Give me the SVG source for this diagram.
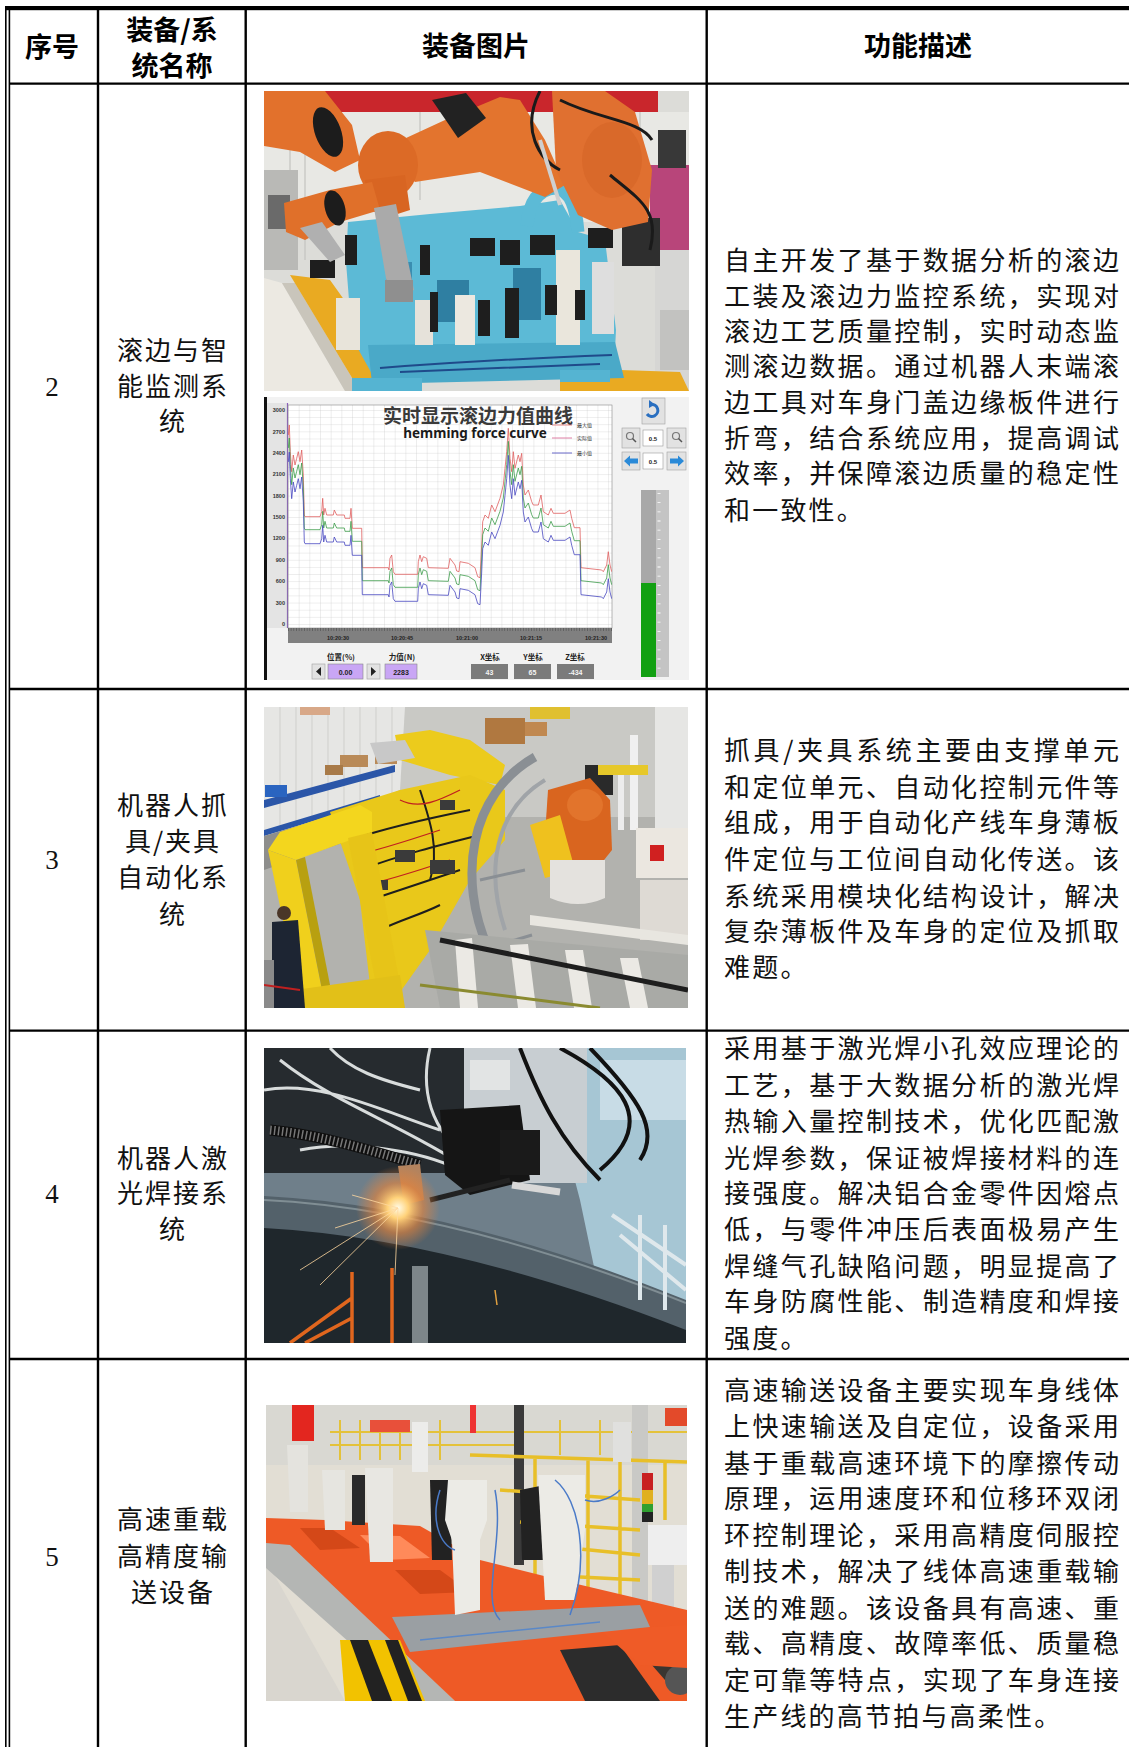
<svg xmlns="http://www.w3.org/2000/svg" xmlns:xlink="http://www.w3.org/1999/xlink" width="1129" height="1747" viewBox="0 0 1129 1747">
<defs>
<style>
.ln{stroke:#000;stroke-width:2.4;fill:none}
.t{font-family:"Noto Sans CJK SC","Noto Sans",sans-serif;font-size:26px;fill:#111}
.c{text-anchor:middle;letter-spacing:2px}
.h{font-family:"Noto Sans CJK SC","Noto Sans",sans-serif;font-size:27px;font-weight:700;text-anchor:middle;fill:#000}
.n{font-family:"Liberation Serif",serif;font-size:27px;text-anchor:middle;fill:#111}
.ax{font-family:"Liberation Sans",sans-serif;font-size:5.5px;font-weight:700;fill:#333}
.tm{font-family:"Liberation Sans",sans-serif;font-size:5.5px;font-weight:700;fill:#222;text-anchor:middle}
.lb{font-family:"Noto Sans CJK SC","Liberation Sans",sans-serif;font-size:7.5px;font-weight:700;fill:#222;text-anchor:middle}
.bv{font-family:"Liberation Sans",sans-serif;font-size:7px;font-weight:700;text-anchor:middle}
.lg{font-family:"Noto Sans CJK SC",sans-serif;font-size:5px;fill:#333}
.btn{fill:#e2e2e2;stroke:#a0a0a0;stroke-width:0.6}
.wire{fill:none;stroke:#1e1e1e;stroke-width:2}
</style>
<clipPath id="cp1"><rect x="264" y="91" width="425" height="300"/></clipPath>
<clipPath id="cp2"><rect x="264" y="397" width="425" height="283"/></clipPath>
<clipPath id="cpPlot"><rect x="288" y="405" width="324" height="223"/></clipPath>
<clipPath id="cp3"><rect x="264" y="707" width="424" height="301"/></clipPath>
<clipPath id="cp4"><rect x="264" y="1048" width="422" height="295"/></clipPath>
<clipPath id="cp5"><rect x="266" y="1405" width="421" height="296"/></clipPath>
<pattern id="grid" patternUnits="userSpaceOnUse" x="288" y="410" width="10.67" height="7.133">
<path d="M0 0H10.67M0 0V7.133" stroke="#c6c6c6" stroke-width="0.6" fill="none"/>
</pattern>
<pattern id="ticks" patternUnits="userSpaceOnUse" x="288" y="628" width="2.67" height="4">
<path d="M0.3 0V3" stroke="#333" stroke-width="0.5"/>
</pattern>
<radialGradient id="spark">
<stop offset="0" stop-color="#fffbe8"/>
<stop offset="0.25" stop-color="#ffd27a"/>
<stop offset="0.6" stop-color="#e8843a" stop-opacity="0.6"/>
<stop offset="1" stop-color="#e8843a" stop-opacity="0"/>
</radialGradient>
<polyline id="curve" fill="none" points="288.3,435 289.3,425 290.3,451.7 291.7,471.7 293.3,455 295,465 296.7,458.3 298.3,451.7 300,461.7 301.7,450 303.3,475 304.3,515 305,516.7 320,516.7 321.7,511.7 322.7,498.3 323.7,515 325,508.3 326.7,515 333.3,515 334.3,510 336.7,515 344.3,515 345,518.3 350,518.3 351,508.3 352.3,528.3 361.7,528.3 362.3,567.7 388.3,567.7 389,570 390,558.3 391.7,555 393.3,571.7 395,574.3 417.7,574.3 418.3,561.7 420,555 421.7,561.7 423.3,556.7 426.7,558.3 428.3,567.7 448.3,568.3 450,558.3 455,565 456.7,571 459,571.7 460,561.7 468.3,563.3 475,567.7 477.7,576.7 480,577.7 481.7,545 482.7,521.7 485,515 488.3,518.3 491.7,505 495,511.7 500,498.3 503.3,485 505,468.3 506.7,451.7 508.3,428.3 510,458.3 511.7,471.7 513.3,451.7 515,468.3 518.3,455 520,461.7 521.7,453.3 523.3,485 525,495 528.3,490 531.7,501.7 533.3,505 538.3,505 541,495 543.3,511.7 548.3,515 551,508.3 553.3,513.3 565,513.3 570,510 571.7,518.3 574.3,527.7 580,527.7 581,567.7 601.7,570 603.3,571.7 606.7,565 608.3,551.7 610,565 611.7,571.7"/>
</defs>

<rect x="0" y="0" width="1129" height="1747" fill="#fff"/>

<!-- table grid -->
<g id="table-grid">
<rect x="5" y="6" width="1124" height="4.2" fill="#000"/>
<rect x="5" y="6" width="1.6" height="1741" fill="#000"/>
<rect x="8.6" y="6" width="1.6" height="1741" fill="#000"/>
<line class="ln" x1="10" y1="83.6" x2="1129" y2="83.6"/>
<line class="ln" x1="10" y1="689" x2="1129" y2="689"/>
<line class="ln" x1="10" y1="1030.6" x2="1129" y2="1030.6"/>
<line class="ln" x1="10" y1="1359" x2="1129" y2="1359"/>
<line class="ln" x1="98" y1="10" x2="98" y2="1747"/>
<line class="ln" x1="245.7" y1="10" x2="245.7" y2="1747"/>
<line class="ln" x1="706.7" y1="10" x2="706.7" y2="1747"/>
</g>

<!-- header -->
<g id="header">
<text class="h" x="52" y="57">序号</text>
<text class="h" x="172" y="40">装备/系</text>
<text class="h" x="172" y="76">统名称</text>
<text class="h" x="476" y="56">装备图片</text>
<text class="h" x="918" y="56">功能描述</text>
</g>

<!-- row 2 -->
<g id="row-2">
<text class="n" x="52" y="396">2</text>
<text class="t c" x="173" y="360">滚边与智</text>
<text class="t c" x="173" y="396">能监测系</text>
<text class="t c" x="173" y="431">统</text>
<g class="desc">
<text class="t" x="724" y="270" textLength="395" lengthAdjust="spacing">自主开发了基于数据分析的滚边</text>
<text class="t" x="724" y="306" textLength="395" lengthAdjust="spacing">工装及滚边力监控系统，实现对</text>
<text class="t" x="724" y="341" textLength="395" lengthAdjust="spacing">滚边工艺质量控制，实时动态监</text>
<text class="t" x="724" y="376" textLength="395" lengthAdjust="spacing">测滚边数据。通过机器人末端滚</text>
<text class="t" x="724" y="412" textLength="395" lengthAdjust="spacing">边工具对车身门盖边缘板件进行</text>
<text class="t" x="724" y="448" textLength="395" lengthAdjust="spacing">折弯，结合系统应用，提高调试</text>
<text class="t" x="724" y="483" textLength="395" lengthAdjust="spacing">效率，并保障滚边质量的稳定性</text>
<text class="t" x="724" y="520" letter-spacing="2.2">和一致性。</text>
</g>
</g>

<!-- photo: hemming cell -->
<g id="photo-hemming" clip-path="url(#cp1)">
<rect x="264" y="91" width="425" height="300" fill="#dcdcd8"/>
<rect x="264" y="112" width="425" height="110" fill="#e8e8e4"/>
<path d="M290 112V260M305 112V260M420 112V200M640 112V200M600 112V180" stroke="#c4c4c0" stroke-width="1.2"/>
<rect x="312" y="91" width="346" height="21" fill="#c9262c"/>
<rect x="264" y="170" width="34" height="100" fill="#b9b9b6"/>
<rect x="268" y="195" width="22" height="34" fill="#6a6a6a"/>
<rect x="650" y="165" width="39" height="95" fill="#b8457a"/>
<rect x="658" y="130" width="28" height="38" fill="#383838"/>
<rect x="655" y="250" width="34" height="141" fill="#d6d6d4"/>
<rect x="660" y="310" width="29" height="60" fill="#c2c2c0"/>
<rect x="622" y="218" width="38" height="48" fill="#2e2e2e"/>
<polygon points="264,278 282,283 345,391 264,391" fill="#ece9e2"/>
<polygon points="282,283 295,283 360,391 345,391" fill="#c9c5bb"/>
<polygon points="290,275 330,280 380,350 420,391 360,391" fill="#e9aa22"/>
<polygon points="560,368 680,372 689,391 560,391" fill="#e9aa22"/>
<polygon points="348,222 430,214 520,206 560,200 578,232 605,240 616,330 614,370 372,374 352,338 346,262" fill="#5cbad6"/>
<polygon points="368,345 615,342 624,378 372,384" fill="#4aa9c8"/>
<rect x="352" y="378" width="70" height="13" fill="#55b4d2"/>
<rect x="560" y="370" width="50" height="12" fill="#55b4d2"/>
<rect x="437" y="280" width="32" height="42" fill="#2f7fa2"/>
<rect x="513" y="268" width="28" height="52" fill="#2f7fa2"/>
<rect x="386" y="262" width="26" height="40" fill="#3a8db0"/>
<path d="M527 226Q530 190 555 188Q575 190 578 232" stroke="#5cbad6" stroke-width="13" fill="none"/>
<rect x="556" y="250" width="24" height="95" fill="#eae6dc"/>
<rect x="592" y="262" width="22" height="72" fill="#dedede"/>
<rect x="336" y="298" width="24" height="52" fill="#e8e4da"/>
<rect x="455" y="295" width="20" height="50" fill="#ece8e0"/>
<rect x="415" y="300" width="18" height="45" fill="#e6e2da"/>
<g fill="#1e1e1e">
<rect x="345" y="235" width="12" height="30"/><rect x="420" y="245" width="10" height="30"/>
<rect x="470" y="238" width="25" height="18"/><rect x="500" y="240" width="20" height="25"/>
<rect x="530" y="235" width="25" height="20"/><rect x="588" y="228" width="25" height="20"/>
<rect x="430" y="292" width="8" height="40"/><rect x="505" y="288" width="14" height="50"/>
<rect x="545" y="285" width="12" height="30"/><rect x="575" y="290" width="10" height="30"/>
<rect x="310" y="260" width="25" height="18"/><rect x="478" y="300" width="12" height="36"/>
</g>
<path d="M380 368Q480 360 612 355M400 372Q500 368 600 364" stroke="#1f4a8a" stroke-width="2" fill="none"/>
<polygon points="264,91 325,91 352,125 360,160 335,172 300,152 264,146" fill="#e2712c"/>
<ellipse cx="328" cy="132" rx="13" ry="26" transform="rotate(-20 328 132)" fill="#1c1c1c"/>
<polygon points="380,150 445,120 500,97 520,100 545,140 565,185 545,197 480,172 415,182" fill="#e3742e"/>
<ellipse cx="388" cy="165" rx="30" ry="34" fill="#dc6a26"/>
<polygon points="365,180 405,175 410,210 385,218 368,208" fill="#d86522"/>
<polygon points="284,203 330,190 372,182 380,210 340,222 305,240 286,232" fill="#e0702a"/>
<ellipse cx="335" cy="208" rx="10" ry="18" transform="rotate(-15 335 208)" fill="#1c1c1c"/>
<polygon points="300,228 322,222 345,255 330,262" fill="#b0b0b0"/>
<polygon points="374,208 396,204 414,290 396,298 388,290" fill="#aaa"/>
<rect x="385" y="280" width="28" height="22" fill="#8f8f8f"/>
<polygon points="552,91 605,91 635,112 652,170 648,222 612,230 578,215 556,170" fill="#e07030"/>
<ellipse cx="612" cy="160" rx="30" ry="38" fill="#d9692a"/>
<polygon points="432,100 466,93 486,118 458,138" fill="#222"/>
<path d="M540 91C520 130 540 160 560 170M560 100C600 120 640 120 652 140M610 175C640 200 660 210 650 250" stroke="#1a1a1a" stroke-width="3" fill="none"/>
<line x1="540" y1="140" x2="560" y2="205" stroke="#cfcfcf" stroke-width="4"/>
</g>

<!-- chart: hemming force curve -->
<g id="chart-hemming" clip-path="url(#cp2)">
<rect x="264" y="397" width="425" height="283" fill="#f2f2f2"/>
<rect x="264" y="397" width="3" height="283" fill="#111"/>
<rect x="267" y="403" width="21" height="225" fill="#e4e4e4"/>
<line x1="287.5" y1="403" x2="287.5" y2="628" stroke="#8a5cc0" stroke-width="1.2"/>
<rect x="288" y="405" width="324" height="223" fill="#fff"/>
<rect x="288" y="405" width="324" height="223" fill="url(#grid)" stroke="#888" stroke-width="0.6"/>
<g clip-path="url(#cpPlot)" stroke-width="0.8">
<use xlink:href="#curve" stroke="#e06060"/>
<use xlink:href="#curve" transform="translate(0,13)" stroke="#3c9c4a"/>
<use xlink:href="#curve" transform="translate(0,27)" stroke="#4848c0"/>
</g>
<text class="ax" x="285" y="412" text-anchor="end">3000</text>
<text class="ax" x="285" y="433.5" text-anchor="end">2700</text>
<text class="ax" x="285" y="455" text-anchor="end">2400</text>
<text class="ax" x="285" y="476.3" text-anchor="end">2100</text>
<text class="ax" x="285" y="497.7" text-anchor="end">1800</text>
<text class="ax" x="285" y="519" text-anchor="end">1500</text>
<text class="ax" x="285" y="540.4" text-anchor="end">1200</text>
<text class="ax" x="285" y="561.8" text-anchor="end">900</text>
<text class="ax" x="285" y="583.2" text-anchor="end">600</text>
<text class="ax" x="285" y="604.6" text-anchor="end">300</text>
<text class="ax" x="285" y="626" text-anchor="end">0</text>
<rect x="288" y="628" width="324" height="15" fill="#808080"/>
<rect x="288" y="628" width="324" height="3" fill="url(#ticks)"/>
<text class="tm" x="338" y="639.5">10:20:30</text>
<text class="tm" x="402" y="639.5">10:20:45</text>
<text class="tm" x="467" y="639.5">10:21:00</text>
<text class="tm" x="531" y="639.5">10:21:15</text>
<text class="tm" x="596" y="639.5">10:21:30</text>
<text x="478" y="422.5" text-anchor="middle" style="font-family:'Noto Sans CJK SC',sans-serif;font-size:19px;font-weight:700;fill:#3a3a3a">实时显示滚边力值曲线</text>
<text x="475" y="438.3" text-anchor="middle" style="font-family:'Noto Sans','Liberation Sans',sans-serif;font-size:13.5px;font-weight:700;fill:#1a1a1a">hemming force curve</text>
<line x1="552" y1="425" x2="572" y2="425" stroke="#e07070" stroke-width="0.8"/>
<line x1="552" y1="438" x2="572" y2="438" stroke="#d86090" stroke-width="0.8"/>
<line x1="552" y1="453" x2="572" y2="453" stroke="#4848c0" stroke-width="0.8"/>
<text class="lg" x="577" y="427">最大值</text>
<text class="lg" x="577" y="440">实际值</text>
<text class="lg" x="577" y="455">最小值</text>
<rect class="btn" x="642" y="398" width="23" height="26"/>
<path d="M647 414A6 6 0 1 0 651 404.5" stroke="#2a6fc0" stroke-width="3" fill="none"/>
<polygon points="649,400 655,404.5 649,408" fill="#2a6fc0"/>
<rect class="btn" x="622" y="428" width="18" height="20"/>
<circle cx="630" cy="436" r="3.5" fill="none" stroke="#777" stroke-width="1.2"/>
<line x1="632.5" y1="438.5" x2="636" y2="442" stroke="#555" stroke-width="1.5"/>
<rect x="643" y="430" width="20" height="16" fill="#fff" stroke="#999" stroke-width="0.6"/>
<text class="bv" x="653" y="440.5" style="font-size:6px;fill:#222">0.5</text>
<rect class="btn" x="667" y="428" width="19" height="20"/>
<circle cx="676" cy="436" r="3.5" fill="none" stroke="#777" stroke-width="1.2"/>
<line x1="678.5" y1="438.5" x2="682" y2="442" stroke="#555" stroke-width="1.5"/>
<rect class="btn" x="622" y="452" width="18" height="18"/>
<polygon points="624,461 630,455.5 630,458.5 638,458.5 638,463.5 630,463.5 630,466.5" fill="#2a8ad8"/>
<rect x="643" y="453" width="20" height="16" fill="#fff" stroke="#999" stroke-width="0.6"/>
<text class="bv" x="653" y="463.5" style="font-size:6px;fill:#222">0.5</text>
<rect class="btn" x="667" y="452" width="19" height="18"/>
<polygon points="684,461 678,455.5 678,458.5 670,458.5 670,463.5 678,463.5 678,466.5" fill="#2a8ad8"/>
<rect x="641" y="490" width="28" height="187" fill="#a8a8a8"/>
<rect x="656" y="490" width="13" height="187" fill="#c4c4c4"/>
<rect x="641" y="583" width="15" height="94" fill="#12a012"/>
<line x1="659" y1="493" x2="659" y2="676" stroke="#fff" stroke-width="3" stroke-dasharray="0.8 8.4"/>
<text class="lb" x="341" y="660">位置(%)</text>
<text class="lb" x="402" y="660">力值(N)</text>
<text class="lb" x="490" y="660">X坐标</text>
<text class="lb" x="533" y="660">Y坐标</text>
<text class="lb" x="575" y="660">Z坐标</text>
<rect class="btn" x="312" y="664" width="13" height="15"/>
<polygon points="321,667 321,676 316,671.5" fill="#222"/>
<rect x="328" y="664" width="35" height="15" fill="#c9a6f5" stroke="#888" stroke-width="0.6"/>
<text class="bv" x="345.5" y="674.5" fill="#222">0.00</text>
<rect class="btn" x="367" y="664" width="13" height="15"/>
<polygon points="371,667 371,676 376,671.5" fill="#222"/>
<rect x="385" y="664" width="32" height="15" fill="#c9a6f5" stroke="#888" stroke-width="0.6"/>
<text class="bv" x="401" y="674.5" fill="#222">2283</text>
<rect x="471" y="664" width="37" height="15" fill="#7b7b7b"/>
<text class="bv" x="489.5" y="674.5" fill="#f4f4f4">43</text>
<rect x="514" y="664" width="37" height="15" fill="#7b7b7b"/>
<text class="bv" x="532.5" y="674.5" fill="#f4f4f4">65</text>
<rect x="557" y="664" width="37" height="15" fill="#7b7b7b"/>
<text class="bv" x="575.5" y="674.5" fill="#f4f4f4">-434</text>
</g>

<!-- row 3 -->
<g id="row-3">
<text class="n" x="52" y="869">3</text>
<text class="t c" x="173" y="815">机器人抓</text>
<text class="t c" x="173" y="851">具/夹具</text>
<text class="t c" x="173" y="887">自动化系</text>
<text class="t c" x="173" y="924">统</text>
<g class="desc">
<text class="t" x="724" y="760" textLength="395" lengthAdjust="spacing">抓具/夹具系统主要由支撑单元</text>
<text class="t" x="724" y="797" textLength="395" lengthAdjust="spacing">和定位单元、自动化控制元件等</text>
<text class="t" x="724" y="832" textLength="395" lengthAdjust="spacing">组成，用于自动化产线车身薄板</text>
<text class="t" x="724" y="869" textLength="395" lengthAdjust="spacing">件定位与工位间自动化传送。该</text>
<text class="t" x="724" y="906" textLength="395" lengthAdjust="spacing">系统采用模块化结构设计，解决</text>
<text class="t" x="724" y="941" textLength="395" lengthAdjust="spacing">复杂薄板件及车身的定位及抓取</text>
<text class="t" x="724" y="977" letter-spacing="2.2">难题。</text>
</g>
</g>

<!-- photo: gripper system -->
<g id="photo-gripper" clip-path="url(#cp3)">
<rect x="264" y="707" width="424" height="301" fill="#b2b2ae"/>
<rect x="400" y="707" width="288" height="110" fill="#c9c9c5"/>
<polygon points="264,707 405,707 400,790 264,850" fill="#e6e6e4"/>
<path d="M280 707V845M296 707V838M312 707V831M328 707V824M344 707V817M360 707V810M376 707V803M392 707V796" stroke="#cfcfcc" stroke-width="1"/>
<rect x="300" y="707" width="30" height="8" fill="#d8a888"/>
<polygon points="264,800 395,765 395,772 264,808" fill="#2b56a8"/>
<polygon points="264,830 380,795 380,801 264,836" fill="#2b56a8"/>
<polygon points="264,836 380,801 380,830 264,870" fill="#8e8e8c"/>
<rect x="265" y="785" width="22" height="12" fill="#2a64c0"/>
<rect x="340" y="755" width="28" height="12" fill="#b98a58"/>
<rect x="375" y="752" width="22" height="12" fill="#b98a58"/>
<rect x="325" y="765" width="18" height="10" fill="#a87a48"/>
<rect x="485" y="718" width="40" height="26" fill="#b07840"/>
<rect x="525" y="722" width="22" height="14" fill="#c08850"/>
<rect x="530" y="707" width="40" height="12" fill="#e0c030"/>
<polygon points="395,735 430,730 470,740 505,765 500,785 450,775 400,760" fill="#eccb1c"/>
<polygon points="370,743 405,740 415,758 378,764" fill="#c8c8c8"/>
<polygon points="330,812 400,790 470,775 505,790 505,840 470,880 430,950 398,995 370,985 360,900" fill="#e9c81a"/>
<path d="M350 840C380 830 420 820 470 810M360 870C400 855 440 845 480 835M370 900C400 890 430 880 460 870M380 930C400 920 420 915 440 905M420 790C430 820 440 850 430 880" class="wire"/>
<path d="M355 855C380 850 410 840 440 830M365 885C390 880 420 870 450 860M400 800C420 810 440 800 460 790" fill="none" stroke="#c02020" stroke-width="1.3"/>
<g fill="#3a3a3a"><rect x="395" y="850" width="20" height="12"/><rect x="430" y="860" width="25" height="14"/><rect x="370" y="880" width="18" height="10"/><rect x="440" y="800" width="15" height="10"/></g>
<polygon points="268,850 280,832 360,805 372,812 372,832 296,860" fill="#f3d61e"/>
<polygon points="268,850 296,860 322,990 300,1000" fill="#f0d01c"/>
<polygon points="296,860 305,857 330,985 322,990" fill="#b8a010"/>
<polygon points="348,838 372,832 400,985 378,995" fill="#e7c418"/>
<polygon points="295,990 400,975 405,1008 300,1008" fill="#e2c018"/>
<path d="M488 948C458 880 468 795 535 757" stroke="#8a8f94" stroke-width="9" fill="none"/>
<path d="M505 930C485 870 495 810 545 780" stroke="#a0a4a8" stroke-width="4" fill="none"/>
<path d="M488 948L532 935M480 880L525 870" stroke="#8a8f94" stroke-width="3" fill="none"/>
<rect x="585" y="765" width="28" height="30" fill="#2a2a2a"/>
<polygon points="548,790 590,778 610,800 612,850 600,865 560,862 545,835" fill="#d9651f"/>
<ellipse cx="585" cy="805" rx="18" ry="16" fill="#e2742c"/>
<polygon points="530,825 560,815 575,870 545,878" fill="#efc11e"/>
<path d="M550 860H605V898Q578 910 550 898Z" fill="#e4e2de"/>
<rect x="655" y="707" width="33" height="130" fill="#e6e6e4"/>
<rect x="630" y="735" width="8" height="95" fill="#f0f0f0"/>
<rect x="618" y="770" width="6" height="60" fill="#ececec"/>
<rect x="598" y="765" width="50" height="10" fill="#e6c82a"/>
<rect x="636" y="828" width="52" height="50" fill="#ebe7e0"/>
<rect x="640" y="880" width="48" height="60" fill="#dedad4"/>
<rect x="650" y="845" width="14" height="16" fill="#d02020"/>
<polygon points="425,930 688,955 688,1008 440,1008" fill="#a9aaa6"/>
<polygon points="530,915 688,935 688,945 530,925" fill="#e8e6e0"/>
<g fill="#ebe9e4"><polygon points="455,940 472,938 478,1008 460,1008"/><polygon points="510,945 528,944 536,1008 518,1008"/><polygon points="565,950 583,950 592,1008 574,1008"/><polygon points="620,958 638,958 648,1008 630,1008"/></g>
<path d="M440 940L688 990" stroke="#1e1e1e" stroke-width="5"/>
<path d="M420 985L600 1008" stroke="#8a8a30" stroke-width="3"/>
<circle cx="284" cy="913" r="7" fill="#4a3628"/>
<polygon points="272,922 298,920 305,1008 272,1008" fill="#1d2533"/>
<rect x="264" y="960" width="10" height="48" fill="#8a8a8a"/>
<path d="M264 985L300 990" stroke="#c02020" stroke-width="2"/>
</g>

<!-- row 4 -->
<g id="row-4">
<text class="n" x="52" y="1203">4</text>
<text class="t c" x="173" y="1168">机器人激</text>
<text class="t c" x="173" y="1203">光焊接系</text>
<text class="t c" x="173" y="1239">统</text>
<g class="desc">
<text class="t" x="724" y="1058" textLength="395" lengthAdjust="spacing">采用基于激光焊小孔效应理论的</text>
<text class="t" x="724" y="1095" textLength="395" lengthAdjust="spacing">工艺，基于大数据分析的激光焊</text>
<text class="t" x="724" y="1131" textLength="395" lengthAdjust="spacing">热输入量控制技术，优化匹配激</text>
<text class="t" x="724" y="1168" textLength="395" lengthAdjust="spacing">光焊参数，保证被焊接材料的连</text>
<text class="t" x="724" y="1203" textLength="395" lengthAdjust="spacing">接强度。解决铝合金零件因熔点</text>
<text class="t" x="724" y="1239" textLength="395" lengthAdjust="spacing">低，与零件冲压后表面极易产生</text>
<text class="t" x="724" y="1276" textLength="395" lengthAdjust="spacing">焊缝气孔缺陷问题，明显提高了</text>
<text class="t" x="724" y="1311" textLength="395" lengthAdjust="spacing">车身防腐性能、制造精度和焊接</text>
<text class="t" x="724" y="1348" letter-spacing="2.2">强度。</text>
</g>
</g>

<!-- photo: laser welding -->
<g id="photo-laser" clip-path="url(#cp4)">
<rect x="264" y="1048" width="422" height="295" fill="#6f7f8a"/>
<polygon points="540,1048 686,1048 686,1343 610,1343 580,1200" fill="#a6c6d4"/>
<rect x="600" y="1060" width="86" height="60" fill="#c8dce6"/>
<rect x="462" y="1048" width="125" height="135" fill="#c8ced2"/>
<rect x="470" y="1060" width="40" height="30" fill="#e2e4e4"/>
<rect x="264" y="1048" width="200" height="125" fill="#262b2f"/>
<path d="M264 1090C320 1080 380 1110 440 1130M280 1060C330 1100 390 1120 455 1160M300 1150C350 1140 420 1150 460 1170M430 1048C420 1090 430 1130 470 1160M330 1048C350 1070 380 1080 420 1090" stroke="#d8dcdc" stroke-width="3" fill="none"/>
<path d="M560 1048C620 1080 660 1120 600 1170M590 1048C640 1100 660 1130 640 1160M520 1048C540 1100 560 1140 600 1180" stroke="#111" stroke-width="4" fill="none"/>
<path d="M270 1130C320 1135 370 1150 420 1165" stroke="#0e0e0e" stroke-width="11" fill="none"/>
<path d="M270 1130C320 1135 370 1150 420 1165" stroke="#777" stroke-width="9" stroke-dasharray="1.5 2.5" fill="none"/>
<polygon points="440,1110 520,1105 530,1180 470,1195 445,1175" fill="#151515"/>
<rect x="500" y="1130" width="40" height="45" fill="#1a1a1a"/>
<polygon points="398,1166 420,1164 424,1200 404,1205" fill="#b3835e"/>
<line x1="512" y1="1185" x2="560" y2="1192" stroke="#d8d8d8" stroke-width="7"/>
<line x1="430" y1="1200" x2="510" y2="1180" stroke="#222" stroke-width="5"/>
<path d="M264 1196Q450 1205 686 1300L686 1343L264 1343Z" fill="#53616a"/>
<path d="M264 1200Q450 1209 686 1303" stroke="#808e94" stroke-width="2" fill="none"/>
<path d="M264 1228Q450 1238 686 1330L686 1343L264 1343Z" fill="#1f272c"/>
<rect x="412" y="1266" width="16" height="77" fill="#7d868a"/>
<path d="M290 1343L352 1298M352 1272V1343M392 1268V1343M305 1343L352 1318" stroke="#e0661e" stroke-width="3.5" fill="none"/>
<path d="M612 1215L686 1265M620 1235L686 1290M640 1215V1300M665 1225V1310" stroke="#dfe8ec" stroke-width="4" fill="none"/>
<line x1="495" y1="1290" x2="497" y2="1305" stroke="#e0a040" stroke-width="1.5"/>
<circle cx="398" cy="1208" r="42" fill="url(#spark)"/>
<path d="M398 1208L320 1285M398 1208L335 1228M398 1208L395 1275M398 1208L352 1195M398 1208L300 1270" stroke="#ffd8a0" stroke-width="0.8" fill="none"/>
</g>

<!-- row 5 -->
<g id="row-5">
<text class="n" x="52" y="1566">5</text>
<text class="t c" x="173" y="1529">高速重载</text>
<text class="t c" x="173" y="1566">高精度输</text>
<text class="t c" x="173" y="1602">送设备</text>
<g class="desc">
<text class="t" x="724" y="1400" textLength="395" lengthAdjust="spacing">高速输送设备主要实现车身线体</text>
<text class="t" x="724" y="1436" textLength="395" lengthAdjust="spacing">上快速输送及自定位，设备采用</text>
<text class="t" x="724" y="1473" textLength="395" lengthAdjust="spacing">基于重载高速环境下的摩擦传动</text>
<text class="t" x="724" y="1508" textLength="395" lengthAdjust="spacing">原理，运用速度环和位移环双闭</text>
<text class="t" x="724" y="1545" textLength="395" lengthAdjust="spacing">环控制理论，采用高精度伺服控</text>
<text class="t" x="724" y="1581" textLength="395" lengthAdjust="spacing">制技术，解决了线体高速重载输</text>
<text class="t" x="724" y="1618" textLength="395" lengthAdjust="spacing">送的难题。该设备具有高速、重</text>
<text class="t" x="724" y="1653" textLength="395" lengthAdjust="spacing">载、高精度、故障率低、质量稳</text>
<text class="t" x="724" y="1690" textLength="395" lengthAdjust="spacing">定可靠等特点，实现了车身连接</text>
<text class="t" x="724" y="1726" letter-spacing="2.2">生产线的高节拍与高柔性。</text>
</g>
</g>

<!-- photo: conveyor -->
<g id="photo-conveyor" clip-path="url(#cp5)">
<rect x="266" y="1405" width="421" height="296" fill="#e2ded4"/>
<rect x="266" y="1405" width="421" height="60" fill="#d9d8d2"/>
<path d="M330 1432H687M330 1445H520M340 1420V1460M360 1420V1460M380 1420V1460M400 1420V1460M440 1420V1460M560 1420V1455M600 1420V1455M640 1420V1455" stroke="#e4c23a" stroke-width="2" fill="none"/>
<rect x="292" y="1405" width="22" height="36" fill="#e3261f"/>
<rect x="470" y="1405" width="6" height="28" fill="#e33"/>
<rect x="665" y="1408" width="22" height="18" fill="#e34a2a"/>
<rect x="370" y="1420" width="40" height="12" fill="#e8503a"/>
<rect x="514" y="1405" width="10" height="160" fill="#3a3a3a"/>
<rect x="632" y="1405" width="16" height="235" fill="#c9c9c6"/>
<path d="M470 1455L687 1462M500 1490L640 1500M520 1522L640 1530M560 1547L640 1555M580 1577L640 1580M535 1458V1575M588 1460V1590M620 1462V1595M665 1462V1520" stroke="#e8bf28" stroke-width="3.5" fill="none"/>
<rect x="648" y="1525" width="39" height="40" fill="#eeeeee"/>
<rect x="652" y="1565" width="22" height="70" fill="#d0d0d0"/>
<rect x="642" y="1473" width="11" height="17" fill="#c82020"/>
<rect x="642" y="1490" width="11" height="14" fill="#e0b020"/>
<rect x="642" y="1504" width="11" height="8" fill="#30a030"/>
<rect x="642" y="1512" width="11" height="10" fill="#222"/>
<polygon points="266,1560 266,1701 345,1701" fill="#d9d6cf"/>
<polygon points="266,1540 290,1540 455,1701 415,1701 266,1568" fill="#b4b6b4"/>
<polygon points="266,1518 325,1520 420,1526 480,1560 560,1580 687,1610 687,1701 455,1701 290,1545 266,1543" fill="#ee5a26"/>
<polygon points="300,1528 330,1528 360,1548 320,1550" fill="#d44818"/>
<polygon points="360,1535 400,1536 430,1558 385,1560" fill="#ff8a5a"/>
<polygon points="395,1570 440,1570 470,1592 420,1594" fill="#d44818"/>
<polygon points="560,1650 620,1645 660,1701 585,1701" fill="#2c2c2c"/>
<polygon points="630,1640 687,1650 687,1690 665,1680" fill="#3a3530"/>
<circle cx="680" cy="1680" r="15" fill="#555"/>
<polygon points="600,1630 687,1625 687,1668 640,1665" fill="#ef5b27"/>
<polygon points="392,1617 640,1605 650,1627 410,1652" fill="#9a9fa3"/>
<path d="M420 1640L600 1622" stroke="#5a88c8" stroke-width="1.5"/>
<polygon points="340,1640 400,1640 425,1701 345,1701" fill="#f2c200"/>
<polygon points="350,1640 368,1640 392,1701 372,1701" fill="#222"/>
<polygon points="385,1640 398,1640 422,1701 408,1701" fill="#222"/>
<polygon points="430,1480 450,1480 452,1560 432,1560" fill="#222"/>
<path d="M448 1480H487V1520L480 1540V1610L455 1615L452 1540L445 1520Z" fill="#ecebe6"/>
<polygon points="520,1490 545,1485 545,1560 522,1560" fill="#222"/>
<path d="M538 1475H585V1530L575 1600H545Z" fill="#ecebe6"/>
<path d="M365 1468H393V1562H370Z" fill="#e8e7e2"/>
<rect x="352" y="1475" width="13" height="50" fill="#2a2a2a"/>
<path d="M322 1470H345V1530H325Z" fill="#e6e5e0"/>
<path d="M287 1445H308V1512H290Z" fill="#e4e3de"/>
<rect x="412" y="1422" width="16" height="50" fill="#ececea"/>
<rect x="613" y="1422" width="18" height="40" fill="#e0e0de"/>
<path d="M440 1490C430 1520 440 1545 455 1550M495 1490C505 1540 480 1600 500 1620M555 1480C580 1500 590 1560 570 1615M585 1500C600 1505 615 1495 620 1490" stroke="#4a7ac8" stroke-width="1.5" fill="none"/>
</g>
</svg>
